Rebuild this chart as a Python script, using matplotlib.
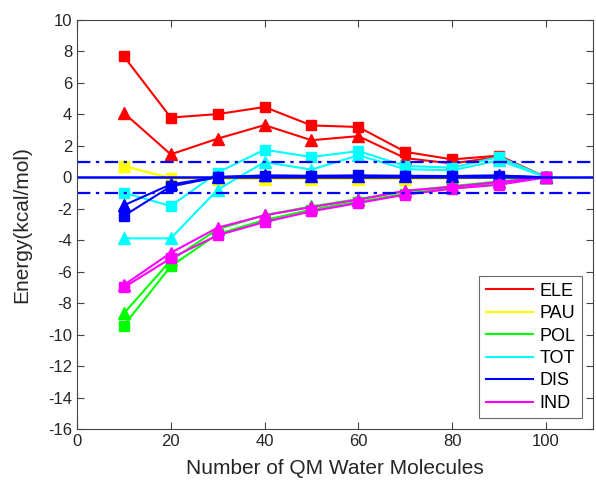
import matplotlib
matplotlib.use("Agg")
import matplotlib.pyplot as plt
from matplotlib.lines import Line2D

plt.rcParams['font.family'] = ['Liberation Sans', 'DejaVu Sans']
plt.rcParams['axes.unicode_minus'] = False

x = [10, 20, 30, 40, 50, 60, 70, 80, 90, 100]

ele_sq  = [7.70, 3.80, 4.02, 4.47, 3.30, 3.20, 1.62, 1.14, 1.38, 0.0]
ele_tri = [4.10, 1.46, 2.46, 3.32, 2.36, 2.62, 1.22, 0.88, 1.30, 0.0]
pau_sq  = [0.72, -0.05, -0.08, -0.10, -0.10, -0.10, -0.08, -0.06, -0.04, 0.0]
pau_tri = [0.72, -0.05, -0.08, -0.10, -0.10, -0.10, -0.08, -0.06, -0.04, 0.0]
pol_sq  = [-9.42, -5.66, -3.60, -2.72, -2.05, -1.55, -1.05, -0.65, -0.35, 0.0]
pol_tri = [-8.65, -5.28, -3.30, -2.40, -1.85, -1.38, -0.90, -0.56, -0.26, 0.0]
tot_sq  = [-0.98, -1.82, 0.30, 1.76, 1.29, 1.67, 0.72, 0.62, 1.30, 0.0]
tot_tri = [-3.88, -3.88, -0.78, 0.97, 0.49, 1.40, 0.52, 0.45, 1.08, 0.0]
dis_sq  = [-2.45, -0.58, 0.02, 0.10, 0.08, 0.12, 0.10, 0.08, 0.10, 0.0]
dis_tri = [-1.78, -0.45, 0.02, 0.12, 0.10, 0.10, 0.08, 0.08, 0.12, 0.0]
ind_sq  = [-7.00, -5.15, -3.68, -2.84, -2.16, -1.63, -1.10, -0.72, -0.47, 0.0]
ind_tri = [-6.85, -4.80, -3.20, -2.42, -1.89, -1.42, -0.85, -0.60, -0.30, 0.0]

labels = ['ELE', 'PAU', 'POL', 'TOT', 'DIS', 'IND']
colors = ['#ff0000', '#ffff00', '#00ff00', '#00ffff', '#0000ff', '#ff00ff']
sq_series = [ele_sq, pau_sq, pol_sq, tot_sq, dis_sq, ind_sq]
tri_series = [ele_tri, pau_tri, pol_tri, tot_tri, dis_tri, ind_tri]

fig = plt.figure(figsize=(5.96, 4.84), dpi=100)
ax = fig.add_axes([0.129, 0.1136, 0.866, 0.845])

for sq, tri, c in zip(sq_series, tri_series, colors):
    ax.plot(x, sq, color=c, lw=1.5, marker='s', ms=7, mec=c, mfc=c)
    ax.plot(x, tri, color=c, lw=1.5, marker='^', ms=8, mec=c, mfc=c)

ax.axhline(0, color='#0000ff', lw=1.8)
ax.axhline(1, color='#0000ff', lw=1.6, ls=(0, (6, 2.5, 1.5, 2.5)))
ax.axhline(-1, color='#0000ff', lw=1.6, ls=(0, (6, 2.5, 1.5, 2.5)))

ax.set_xlim(0, 110)
ax.set_ylim(-16, 10)
ax.set_xticks([0, 20, 40, 60, 80, 100])
ax.set_yticks(list(range(-16, 11, 2)))
ax.tick_params(direction='in', top=True, right=True, labelsize=12, length=5,
               color='#444444', labelcolor='#262626')
for s in ax.spines.values():
    s.set_color('#444444')
ax.set_xlabel('Number of QM Water Molecules', fontsize=15, color='#262626', labelpad=7)
ax.set_ylabel('Energy(kcal/mol)', fontsize=15, color='#262626', labelpad=12)

handles = [Line2D([], [], color=c, lw=1.5) for c in colors]
leg = ax.legend(handles, labels, loc='lower right', fontsize=13, frameon=True,
                fancybox=False, edgecolor='#444444', handlelength=2.6,
                borderaxespad=0.6, labelspacing=0.3, handletextpad=0.4,
                borderpad=0.35)
leg.get_frame().set_linewidth(0.8)

fig.savefig('out.png', dpi=100)
